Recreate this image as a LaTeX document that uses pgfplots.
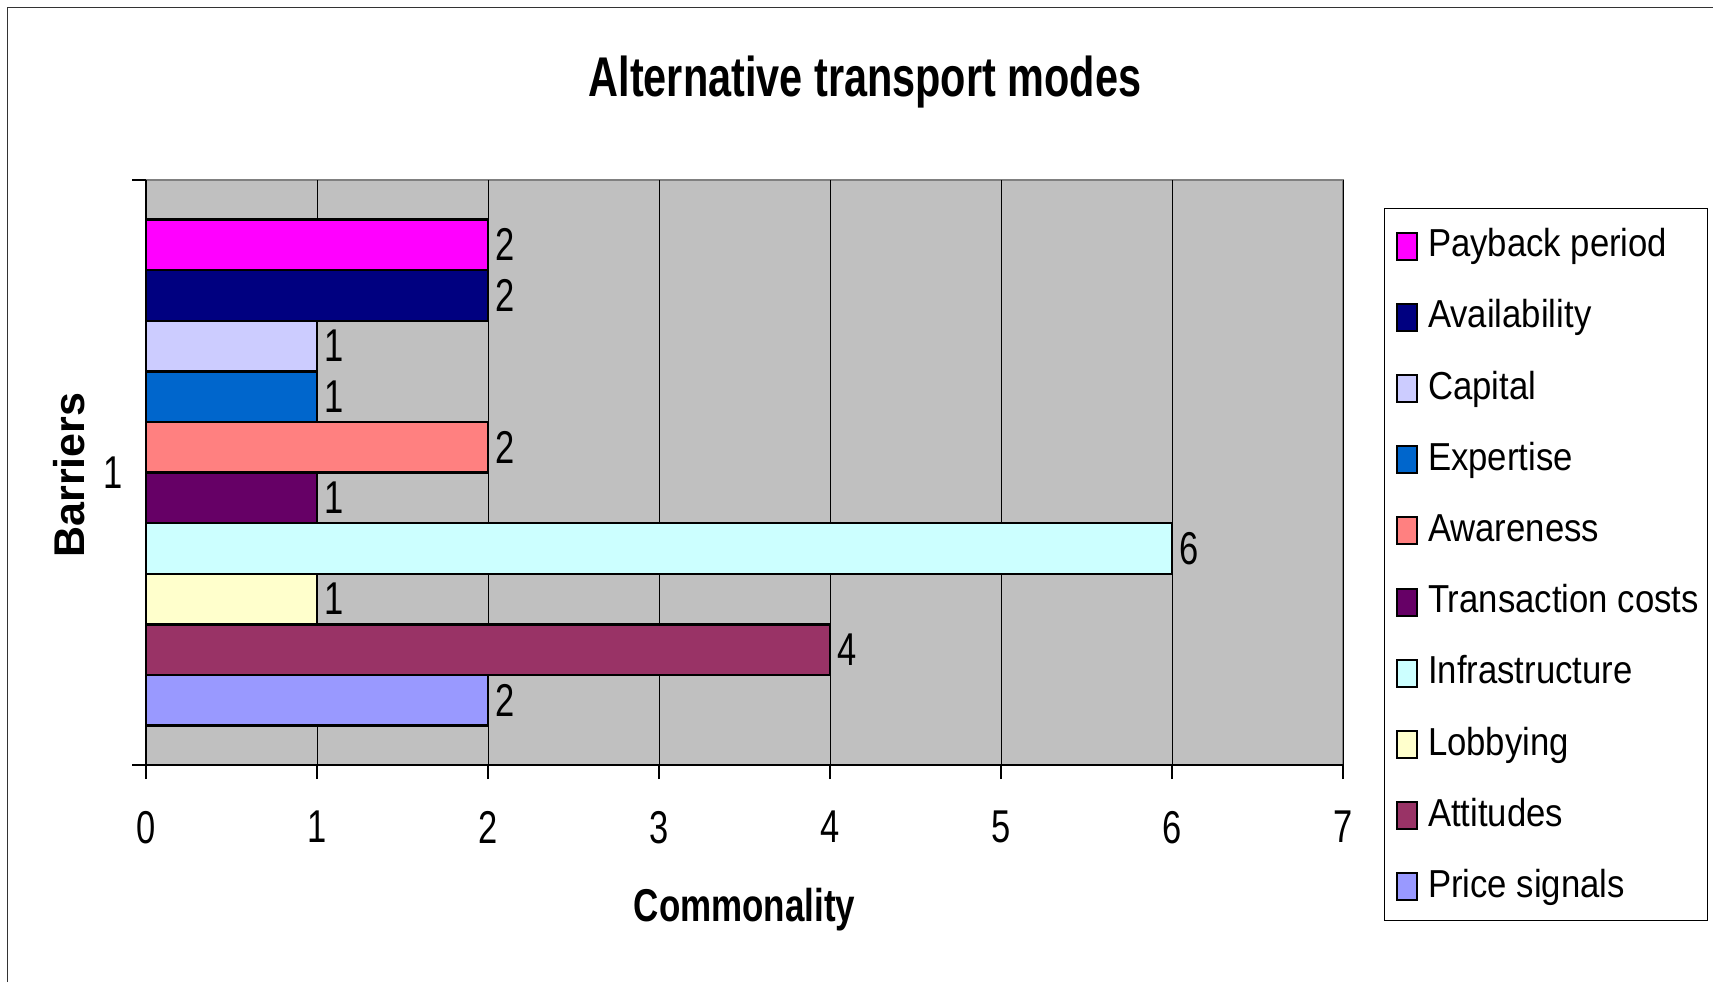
\documentclass[border=0pt]{standalone}
\usepackage{fontspec}
\setmainfont{Liberation Sans}
\newfontfamily\tickfont{Liberation Sans}[FakeStretch=0.75]
\newfontfamily\titlefont{Liberation Sans}[FakeStretch=0.74]
\newfontfamily\xlfont{Liberation Sans}[FakeStretch=0.76]
\newfontfamily\legfont{Liberation Sans}[FakeStretch=0.89]
\usepackage{pgfplots}
\pgfplotsset{compat=1.18}

\definecolor{cPay}{HTML}{FF00FF}
\definecolor{cAva}{HTML}{000080}
\definecolor{cCap}{HTML}{CCCCFF}
\definecolor{cExp}{HTML}{0066CC}
\definecolor{cAwa}{HTML}{FF8080}
\definecolor{cTra}{HTML}{660066}
\definecolor{cInf}{HTML}{CCFFFF}
\definecolor{cLob}{HTML}{FFFFCC}
\definecolor{cAtt}{HTML}{993366}
\definecolor{cPri}{HTML}{9999FF}
\definecolor{plotbg}{HTML}{C0C0C0}

\begin{document}
\begin{tikzpicture}
% 1 px of the reference = 0.5pt
\useasboundingbox (0,0) rectangle (856.5pt,-491pt);
\draw[line width=0.8pt, black!80] (3.7pt,-491pt) -- (3.7pt,-3.7pt) -- (856.5pt,-3.7pt);

\begin{axis}[
    at={(73pt,-382.5pt)}, anchor=south west,
    scale only axis,
    width=598.5pt, height=292.5pt,
    xbar,
    bar width=0.0865,
    xmin=0, xmax=7,
    ymin=0.5, ymax=1.5,
    enlargelimits=false,
    axis x line*=bottom, axis y line*=left,
    axis line style={black, line width=1.1pt},
    axis background/.style={fill=plotbg, draw=black!50, line width=1.2pt},
    xtick={0,1,...,7},
    ytick={0.5,1.5}, yticklabels={,},
    extra y ticks={1}, extra y tick labels={1},
    extra y tick style={major tick length=0pt},
    tick align=outside,
    major tick length=7pt,
    tick style={black, line width=0.6pt},
    xmajorgrids,
    major grid style={black, line width=0.5pt},
    /pgf/number format/assume math mode=true,
    ticklabel style={font=\tickfont\fontsize{23}{23}\selectfont},
    xticklabel style={yshift=-12.5pt},
    yticklabel style={xshift=-8pt},
    nodes near coords,
    nodes near coords style={font=\tickfont\fontsize{23}{23}\selectfont, black},
    title={Alternative transport modes},
    title style={at={(axis description cs:0.6007,1.1225)}, anchor=base,
        font=\titlefont\bfseries\fontsize{28}{28}\selectfont},
    xlabel={Commonality},
    xlabel style={at={(axis description cs:0.5,-0.2667)}, anchor=base,
        font=\xlfont\bfseries\fontsize{23}{23}\selectfont},
    ylabel={Barriers},
    ylabel style={at={(axis description cs:-0.051,0.4957)}, anchor=base,
        font=\bfseries\fontsize{21.5}{21.5}\selectfont},
    legend image code/.code={
        \path (0pt,0pt) (16pt,0pt);
        \draw[#1, draw=black, line width=1pt] (4pt,-8.75pt) rectangle (14pt,4.75pt);},
    legend cell align=left,
    legend style={at={(axis description cs:1.0343,0.9521)}, anchor=north west,
        draw=black, line width=0.6pt, fill=white,
        inner xsep=1.5pt, inner ysep=9.5pt, row sep=19.1pt,
        font=\legfont\fontsize{19.5}{19.5}\selectfont,
        nodes={inner xsep=3pt, inner ysep=0pt, text height=14.5pt, text depth=0pt}},
    clip=false,
]
\addplot[fill=cPay, draw=black, line width=1.2pt, bar shift=0.38925] coordinates {(2,1)};
\addplot[fill=cAva, draw=black, line width=1.2pt, bar shift=0.30275] coordinates {(2,1)};
\addplot[fill=cCap, draw=black, line width=1.2pt, bar shift=0.21625] coordinates {(1,1)};
\addplot[fill=cExp, draw=black, line width=1.2pt, bar shift=0.12975] coordinates {(1,1)};
\addplot[fill=cAwa, draw=black, line width=1.2pt, bar shift=0.04325] coordinates {(2,1)};
\addplot[fill=cTra, draw=black, line width=1.2pt, bar shift=-0.04325] coordinates {(1,1)};
\addplot[fill=cInf, draw=black, line width=1.2pt, bar shift=-0.12975] coordinates {(6,1)};
\addplot[fill=cLob, draw=black, line width=1.2pt, bar shift=-0.21625] coordinates {(1,1)};
\addplot[fill=cAtt, draw=black, line width=1.2pt, bar shift=-0.30275] coordinates {(4,1)};
\addplot[fill=cPri, draw=black, line width=1.2pt, bar shift=-0.38925] coordinates {(2,1)};
\legend{Payback period, Availability, Capital, Expertise, Awareness,
    Transaction costs, Infrastructure, Lobbying, Attitudes, Price signals}
\end{axis}
\end{tikzpicture}
\end{document}
